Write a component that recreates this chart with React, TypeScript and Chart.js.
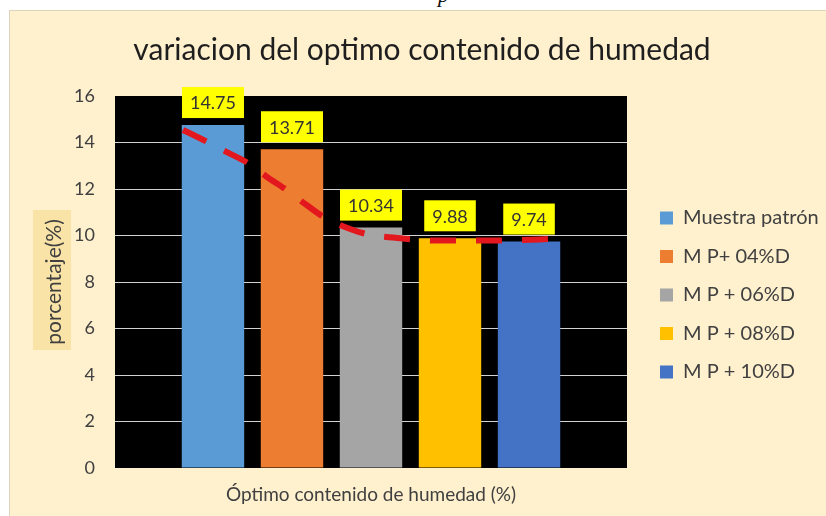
import React, { useEffect, useRef } from 'react';
import { Chart, registerables } from 'chart.js';

Chart.register(...registerables);

const FONT = 'Lato';

// ---- data ----
const seriesNames = ['Muestra patrón', 'M P+ 04%D', 'M P + 06%D', 'M P + 08%D', 'M P + 10%D'];
const seriesValues = [14.75, 13.71, 10.34, 9.88, 9.74];
const seriesColors = ['#5B9BD5', '#ED7D31', '#A5A5A5', '#FFC000', '#4472C4'];
const yTicks = [0, 2, 4, 6, 8, 10, 12, 14, 16];
// dashed trend line, x in "bar index" units (0 = first bar centre)
const trendX = [-0.38, -0.08, 0.17, 0.45, 0.68, 0.93, 1.19, 1.4, 1.63, 1.95, 2.28, 2.83, 3.38, 3.8, 4.29];
const trendY = [14.54, 14.04, 13.6, 13.1, 12.53, 11.96, 11.3, 10.8, 10.42, 10.06, 9.91, 9.78, 9.78, 9.8, 9.85];

const TITLE = 'variacion del optimo contenido de humedad';
const X_TITLE = 'Óptimo contenido de humedad (%)';
const Y_TITLE = 'porcentaje(%)';

const X_MIN = -1.24;
const X_MAX = 5.24;
const BAR_FRACTION = 0.79;

const decorPlugin = {
  id: 'decor',
  beforeLayout(chart: any) {
    const lg = chart.legend;
    if (lg && !lg.__fixedWidth) {
      const origFit = lg.fit;
      lg.fit = function (this: any) {
        origFit.call(this);
        this.width = 199;
      };
      lg.__fixedWidth = true;
    }
  },
  beforeDraw(chart: any) {
    const { ctx, chartArea } = chart;
    ctx.save();
    ctx.fillStyle = '#000000';
    ctx.fillRect(chartArea.left, chartArea.top, chartArea.right - chartArea.left, chartArea.bottom - chartArea.top);
    const ys = chart.scales.y;
    const cy = (chartArea.top + chartArea.bottom) / 2;
    ctx.fillStyle = '#F9E3A6';
    ctx.fillRect(ys.left + 15, cy - 72, 38, 140);
    ctx.restore();
    const lg = chart.legend;
    if (lg) {
      lg.left = chartArea.right + 14.5;
      lg.right = lg.left + lg.width;
      lg.top = chartArea.top + 13;
      lg.bottom = chartArea.bottom + 13;
    }
  },
  afterDatasetsDraw(chart: any) {
    const { ctx } = chart;
    ctx.save();
    ctx.font = `18px ${FONT}`;
    ctx.textAlign = 'center';
    ctx.textBaseline = 'middle';
    chart.data.datasets.forEach((ds: any, i: number) => {
      if (ds.type !== 'bar') return;
      const el = chart.getDatasetMeta(i).data[0];
      if (!el) return;
      const txt = String(ds.data[0].y);
      const w = ctx.measureText(txt).width + 16;
      const h = 31;
      const yb = el.y - 7;
      ctx.fillStyle = '#FFFF00';
      ctx.fillRect(el.x - w / 2, yb - h, w, h);
      ctx.fillStyle = '#333333';
      ctx.fillText(txt, el.x, yb - h / 2 + 1);
    });
    ctx.restore();
  },
};

function ChartView() {
  const ref = useRef<HTMLCanvasElement | null>(null);
  useEffect(() => {
    if (!ref.current) return;
    const chart = new Chart(ref.current, {
      type: 'bar',
      data: {
        datasets: [
          {
            type: 'line',
            label: 'trend',
            data: trendX.map((x, i) => ({ x, y: trendY[i] })),
            borderColor: '#E3171E',
            borderWidth: 6,
            borderDash: [26, 20],
            borderCapStyle: 'butt',
            pointRadius: 0,
            fill: false,
            tension: 0.4,
            cubicInterpolationMode: 'monotone',
            order: -1,
          } as any,
          ...seriesNames.map((name, i) => ({
            type: 'bar' as const,
            label: name,
            data: [{ x: i, y: seriesValues[i] }],
            backgroundColor: seriesColors[i],
            borderWidth: 0,
            grouped: false,
            categoryPercentage: BAR_FRACTION,
            barPercentage: 1,
          })),
        ],
      },
      options: {
        responsive: false,
        animation: false,
        events: [],
        layout: { padding: { left: 8, top: 0, right: 0, bottom: 0 } },
        plugins: {
          title: {
            display: true,
            text: TITLE,
            color: '#1E1E1E',
            font: { family: FONT, size: 30, weight: 'normal' },
            padding: { top: 21, bottom: 28 },
          },
          legend: {
            display: true,
            position: 'right',
            fullSize: false,
            labels: {
              boxWidth: 13,
              boxHeight: 13,
              padding: 18.5,
              color: '#404040',
              font: { family: FONT, size: 20 },
              filter: (item: any) => item.datasetIndex > 0,
            },
          },
          tooltip: { enabled: false },
        },
        scales: {
          x: {
            type: 'linear',
            min: X_MIN,
            max: X_MAX,
            offset: false,
            afterBuildTicks: (s: any) => {
              s.ticks = seriesValues.map((_, i) => ({ value: i }));
            },
            grid: { display: false },
            border: { display: false },
            ticks: { display: false },
            title: {
              display: true,
              text: X_TITLE,
              color: '#404040',
              font: { family: FONT, size: 19 },
              padding: { top: 0, bottom: 10 },
            },
            afterFit: (s: any) => {
              s.height = 48;
            },
          },
          y: {
            type: 'linear',
            min: 0,
            max: 16,
            afterBuildTicks: (s: any) => {
              s.ticks = yTicks.map((v) => ({ value: v }));
            },
            ticks: {
              color: '#404040',
              font: { family: FONT, size: 18 },
              padding: 20,
            },
            grid: {
              drawTicks: false,
              lineWidth: 1,
              color: (c: any) => (c.tick && (c.tick.value === 0 || c.tick.value === 16) ? 'rgba(0,0,0,0)' : '#D2D2D2'),
            },
            border: { display: false },
            title: {
              display: true,
              text: Y_TITLE,
              color: '#404040',
              font: { family: FONT, size: 21 },
              padding: { top: 23.4, bottom: 0 },
            },
            afterFit: (s: any) => {
              s.width = 97;
            },
          },
        },
      } as any,
      plugins: [decorPlugin],
    });
    return () => chart.destroy();
  }, []);
  return <canvas ref={ref} width={816} height={505} style={{ display: 'block' }} />;
}

export default function App() {
  return (
    <div
      style={{
        position: 'absolute',
        left: 0,
        top: 0,
        width: 826,
        height: 516,
        background: '#ffffff',
        overflow: 'hidden',
      }}
    >
      <span
        style={{
          position: 'absolute',
          left: 438,
          top: -16,
          fontFamily: '"Liberation Serif", serif',
          fontStyle: 'italic',
          fontSize: 22,
          lineHeight: '22px',
          color: '#111',
        }}
      >
        p
      </span>
      <div
        style={{
          position: 'absolute',
          left: 9,
          top: 10,
          width: 817,
          height: 506,
          background: '#FFF0CE',
          borderTop: '1px solid #DCD5BE',
          borderLeft: '1px solid #DCD5BE',
        }}
      >
        <ChartView />
      </div>
    </div>
  );
}
